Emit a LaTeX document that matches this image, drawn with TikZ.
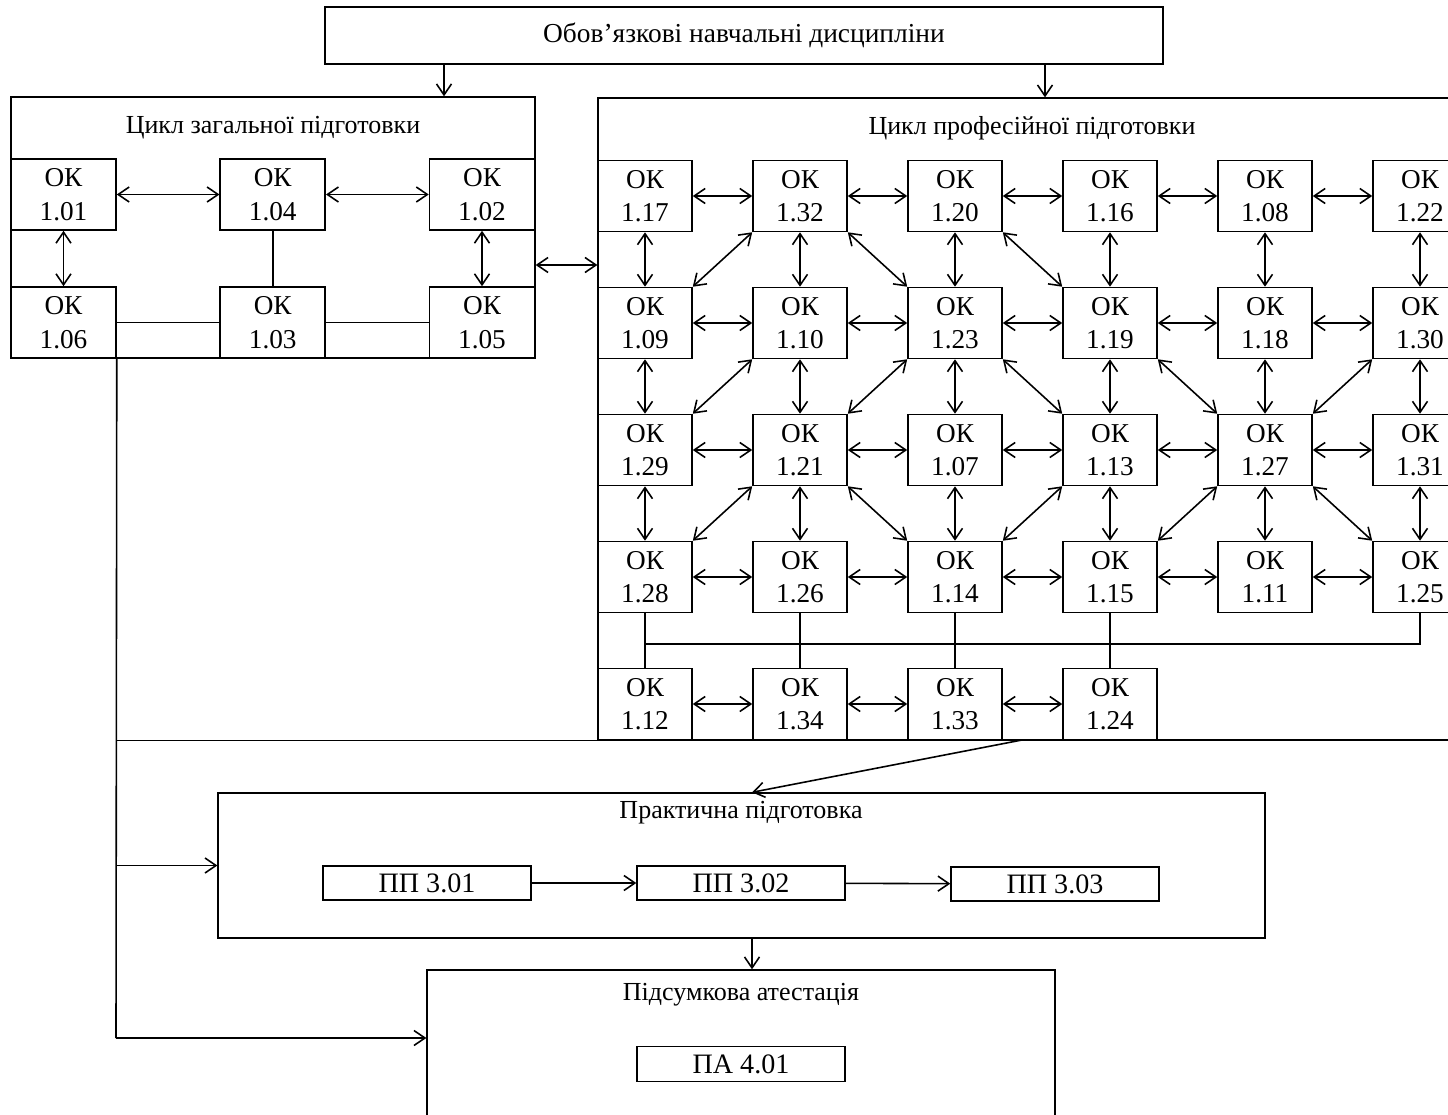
\documentclass[tikz,border=0pt]{standalone}
\usepackage{fontspec}
\setmainfont{Liberation Serif}
\usetikzlibrary{arrows.meta, positioning, calc}

\begin{document}
\begin{tikzpicture}[
    x=0.02cm, y=-0.02cm,
    >={Straight Barb[length=2.2mm,width=3mm]},
    % boxes
    okbox/.style={
        rectangle,
        draw=black,
        line width=0.9pt,
        minimum width=1.88cm,
        minimum height=1.42cm,
        inner sep=0pt,
        align=center,
        font=\fontsize{15.5}{19}\selectfont
    },
    genbox/.style={okbox, minimum width=2.1cm},
    frame/.style={rectangle, draw=black, line width=0.8pt, inner sep=0pt},
    heading/.style={inner sep=0pt, font=\fontsize{14.8}{17}\selectfont},
    ppbox/.style={
        rectangle,
        draw=black,
        line width=0.8pt,
        minimum width=4.16cm,
        minimum height=0.68cm,
        inner sep=0pt,
        font=\fontsize{16}{18}\selectfont
    },
    link/.style={<->, line width=0.9pt},
    flow/.style={->, line width=0.9pt},
    bus/.style={line width=0.9pt}
]
    \useasboundingbox (0,0) rectangle (1448,1115);
    \clip (0,0) rectangle (1448,1115);

    % --- frames ---
    \node[frame, heading, minimum width=16.76cm, minimum height=1.14cm, font=\fontsize{15.6}{18}\selectfont] (disc) at (744,35.5) {Обов’язкові навчальні дисципліни};
    \node[frame, minimum width=10.48cm, minimum height=5.22cm] (gen) at (273,227.5) {};
    \node[heading] (genhead) at (273,128) {Цикл загальної підготовки};
    \node[frame, minimum width=17.44cm, minimum height=12.84cm] (prof) at (1034,419) {};
    \node[heading] (profhead) at (1032,128) {Цикл професійної підготовки};
    \node[frame, minimum width=20.94cm, minimum height=2.9cm] (prac) at (741.5,865.5) {};
    \node[heading] (prachead) at (741,813) {Практична підготовка};
    \node[frame, minimum width=12.56cm, minimum height=3.3cm] (att) at (741,1052.5) {};
    \node[heading] (atthead) at (741,995) {Підсумкова атестація};

    % --- general cycle ---
    \foreach \num/\c/\r in {01/0/0, 04/1/0, 02/2/0, 06/0/1, 03/1/1, 05/2/1}
        \node[genbox] (k\num) at ({63.5+209.25*\c},{194.5+128*\r}) {ОК\\1.\num};
    \draw[link] (k01) -- (k04);
    \draw[link] (k04) -- (k02);
    \draw[link] (k01) -- (k06);
    \draw[link] (k02) -- (k05);
    \draw[bus] (k04) -- (k03);
    \draw[bus] (k06) -- (k03);
    \draw[bus] (k03) -- (k05);

    % --- professional cycle ---
    \foreach \num/\c/\r in {17/0/0, 32/1/0, 20/2/0, 16/3/0, 08/4/0, 22/5/0,
                            09/0/1, 10/1/1, 23/2/1, 19/3/1, 18/4/1, 30/5/1,
                            29/0/2, 21/1/2, 07/2/2, 13/3/2, 27/4/2, 31/5/2,
                            28/0/3, 26/1/3, 14/2/3, 15/3/3, 11/4/3, 25/5/3,
                            12/0/4, 34/1/4, 33/2/4, 24/3/4}
        \node[okbox] (k\num) at ({645+155*\c},{196+127*\r}) {ОК\\1.\num};

    \foreach \a/\b in {17/32, 32/20, 20/16, 16/08, 08/22,
                       09/10, 10/23, 23/19, 19/18, 18/30,
                       29/21, 21/07, 07/13, 13/27, 27/31,
                       28/26, 26/14, 14/15, 15/11, 11/25,
                       12/34, 34/33, 33/24,
                       17/09, 09/29, 29/28, 32/10, 10/21, 21/26,
                       20/23, 23/07, 07/14, 16/19, 19/13, 13/15,
                       08/18, 18/27, 27/11, 22/30, 30/31, 31/25}
        \draw[link] (k\a) -- (k\b);
    \foreach \a/\b in {32/09, 10/29, 21/28, 23/21, 13/14, 30/27, 27/15}
        \draw[link] (k\a.south west) -- (k\b.north east);
    \foreach \a/\b in {32/23, 20/19, 23/13, 19/27, 21/14, 27/25}
        \draw[link] (k\a.south east) -- (k\b.north west);

    % bus under the fourth row
    \coordinate (busrow) at (0,644);
    \foreach \a/\b in {28/12, 26/34, 14/33, 15/24}
        \draw[bus] (k\a) -- (k\b);
    \draw[bus] (k28.south |- busrow) -- (k25.south |- busrow) -- (k25.south);

    % --- links between blocks ---
    \coordinate (dropgen) at (444,0);
    \coordinate (dropprof) at (1045,0);
    \draw[flow] (disc.south -| dropgen) -- (gen.north -| dropgen);
    \draw[flow] (disc.south -| dropprof) -- (prof.north -| dropprof);
    \coordinate (linkrow) at (0,265);
    \draw[link] (gen.east |- linkrow) -- (prof.west |- linkrow);

    \coordinate (busend) at (116,1038);
    \draw[bus] (k06.south east) -- (busend);
    \draw[bus] (k06.south east |- prof.south) -- (prof.south west);
    \draw[flow] (k06.south east |- prac.west) -- (prac.west);
    \draw[flow] (busend) -- (busend -| att.west);
    \coordinate (feed) at (1022,740);
    \coordinate (land) at (752,0);
    \draw[flow] (feed) -- (prac.north -| land);

    % --- practice and attestation ---
    \node[ppbox] (pp301) at (427,883) {ПП 3.01};
    \node[ppbox] (pp302) at (741,883) {ПП 3.02};
    \node[ppbox] (pp303) at (1055,884) {ПП 3.03};
    \node[ppbox, minimum height=0.7cm] (pa401) at (741,1064) {ПА 4.01};
    \draw[flow] (pp301) -- (pp302);
    \draw[flow] (pp302) -- (pp303);
    \draw[flow] (prac.south -| land) -- (att.north -| land);
\end{tikzpicture}
\end{document}
